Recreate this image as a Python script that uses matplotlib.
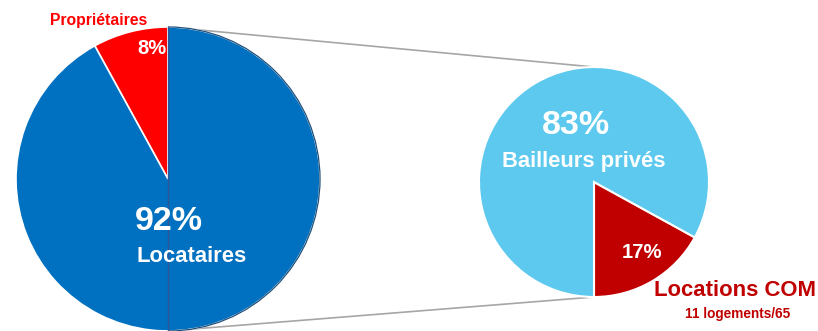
import matplotlib.pyplot as plt
from matplotlib.patches import Arc

plt.rcParams['font.family'] = ['Liberation Sans', 'DejaVu Sans']

# main split: owners / tenants
main_labels = ['Propriétaires', 'Locataires']
main_values = [8, 92]
main_colors = ['#FF0000', '#0070C0']

# breakdown of tenants
sub_labels = ['Locations COM', 'Bailleurs privés']
sub_values = [17, 83]
sub_colors = ['#C00000', '#5DC9EE']
sub_note = '11 logements/65'

W, H = 818, 331
fig = plt.figure(figsize=(W / 100, H / 100), dpi=100)
ax = fig.add_axes([0, 0, 1, 1])

big_c, big_r = (168, H - 179), 152
small_c, small_r = (594, H - 182), 115

# connector lines between the two pies
ax.plot([big_c[0], small_c[0]], [big_c[1] + big_r, small_c[1] + small_r],
        color='#A6A6A6', lw=1.2, zorder=1)
ax.plot([big_c[0], small_c[0]], [big_c[1] - big_r, small_c[1] - small_r],
        color='#A6A6A6', lw=1.2, zorder=1)

ax.pie(main_values, colors=main_colors, startangle=90, counterclock=True,
       center=big_c, radius=big_r,
       wedgeprops=dict(edgecolor='white', linewidth=1.2))
ax.pie(sub_values, colors=sub_colors, startangle=-90, counterclock=True,
       center=small_c, radius=small_r,
       wedgeprops=dict(edgecolor='white', linewidth=1.5))

# darker rim and split line on the big pie
ax.add_patch(Arc(big_c, 2 * big_r, 2 * big_r, theta1=-90, theta2=90,
                 color='#1F4E79', lw=0.9, zorder=3))
ax.plot([big_c[0], big_c[0]], [big_c[1] - big_r, big_c[1] + big_r],
        color='#2F5597', lw=1.0, zorder=3)

ax.set_xlim(0, W)
ax.set_ylim(0, H)
ax.set_aspect('auto')
ax.axis('off')

def y(p):
    return H - p

ax.text(99, y(21), main_labels[0], color='#FF0000', fontsize=11.3,
        fontweight='bold', ha='center', va='center')
ax.text(152, y(48), f'{main_values[0]}%', color='white', fontsize=14.5,
        fontweight='bold', ha='center', va='center')
ax.text(169, y(221), f'{main_values[1]}%', color='white', fontsize=24.5,
        fontweight='bold', ha='center', va='center')
ax.text(192, y(256), main_labels[1], color='white', fontsize=15.8,
        fontweight='bold', ha='center', va='center')

ax.text(576, y(126), f'{sub_values[1]}%', color='white', fontsize=24.5,
        fontweight='bold', ha='center', va='center')
ax.text(584, y(161), sub_labels[1], color='white', fontsize=15.8,
        fontweight='bold', ha='center', va='center')
ax.text(642, y(252), f'{sub_values[0]}%', color='white', fontsize=14.6,
        fontweight='bold', ha='center', va='center')
ax.text(735, y(291), sub_labels[0], color='#C00000', fontsize=15.9,
        fontweight='bold', ha='center', va='center')
ax.text(738, y(314), sub_note, color='#C00000', fontsize=9.8,
        fontweight='bold', ha='center', va='center')

fig.savefig('out.png', dpi=100)
